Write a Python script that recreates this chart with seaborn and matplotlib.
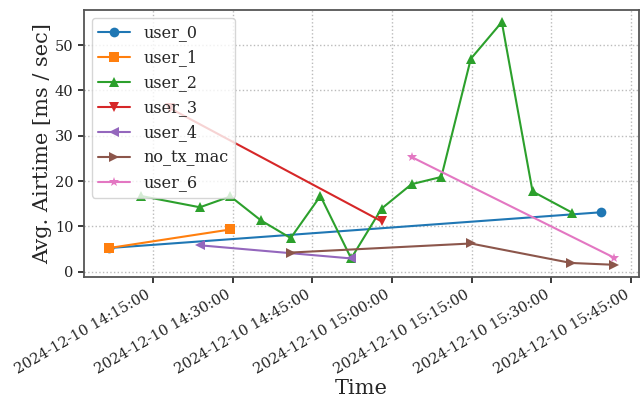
import pandas as pd
import matplotlib
matplotlib.use("Agg")
import matplotlib.pyplot as plt
import matplotlib.dates as mdates
import seaborn as sns

day = "2024-12-10 "

# series
user_0_t = ["14:06:46", "15:39:22"]
user_0_v = [5.2, 13.1]

user_1_t = ["14:06:46", "14:29:35"]
user_1_v = [5.2, 9.3]

user_2_t = ["14:12:44", "14:23:50", "14:29:35", "14:35:19", "14:40:55", "14:46:31",
            "14:52:18", "14:58:01", "15:03:40", "15:09:16", "15:14:49", "15:20:39",
            "15:26:26", "15:33:54"]
user_2_v = [16.7, 14.2, 16.6, 11.3, 7.4, 16.7, 2.9, 13.9, 19.3, 20.9, 47.0, 55.1,
            17.7, 13.0]

user_3_t = ["14:18:09", "14:58:01"]
user_3_v = [36.1, 11.1]

user_4_t = ["14:23:50", "14:52:18"]
user_4_v = [5.8, 2.9]

no_tx_mac_t = ["14:40:55", "15:14:49", "15:33:40", "15:41:44"]
no_tx_mac_v = [4.2, 6.2, 1.9, 1.5]

user_6_t = ["15:03:40", "15:41:44"]
user_6_v = [25.3, 3.1]

series = [
    ("user_0", user_0_t, user_0_v, "o"),
    ("user_1", user_1_t, user_1_v, "s"),
    ("user_2", user_2_t, user_2_v, "^"),
    ("user_3", user_3_t, user_3_v, "v"),
    ("user_4", user_4_t, user_4_v, "<"),
    ("no_tx_mac", no_tx_mac_t, no_tx_mac_v, ">"),
    ("user_6", user_6_t, user_6_v, "*"),
]

sns.set_theme(style="whitegrid", rc={
    "grid.linestyle": ":",
    "grid.color": "#bbbbbb",
    "axes.edgecolor": "#555555",
    "axes.linewidth": 1.3,
    "xtick.bottom": True,
    "ytick.left": True,
    "xtick.major.size": 4,
    "ytick.major.size": 4,
    "xtick.major.pad": 3.5,
    "ytick.major.pad": 3.5,
    "xtick.color": "#222222",
    "ytick.color": "#222222",
})
plt.rcParams["font.family"] = ["DejaVu Serif"]

fig, ax = plt.subplots(figsize=(6.41, 3.99), dpi=100)
palette = sns.color_palette("tab10")

for i, (name, t, v, m) in enumerate(series):
    df = pd.DataFrame({"Time": pd.to_datetime([day + s for s in t]), "val": v})
    sns.lineplot(data=df, x="Time", y="val", marker=m, markersize=7,
                 markeredgewidth=0, color=palette[i], label=name, ax=ax)

ax.xaxis.set_major_locator(mdates.MinuteLocator(byminute=[0, 15, 30, 45]))
ax.xaxis.set_major_formatter(mdates.DateFormatter("%Y-%m-%d %H:%M:%S"))
plt.setp(ax.get_xticklabels(), rotation=30, ha="right")
ax.tick_params(labelsize=10.5)
ax.set_xlabel("Time", fontsize=15, labelpad=2)
ax.set_ylabel("Avg. Airtime [ms / sec]", fontsize=15, labelpad=2)
ax.legend(loc="upper left", fontsize=11.5)

fig.subplots_adjust(left=0.131, right=0.997, top=0.975, bottom=0.306)
fig.savefig("out.png", dpi=100)
